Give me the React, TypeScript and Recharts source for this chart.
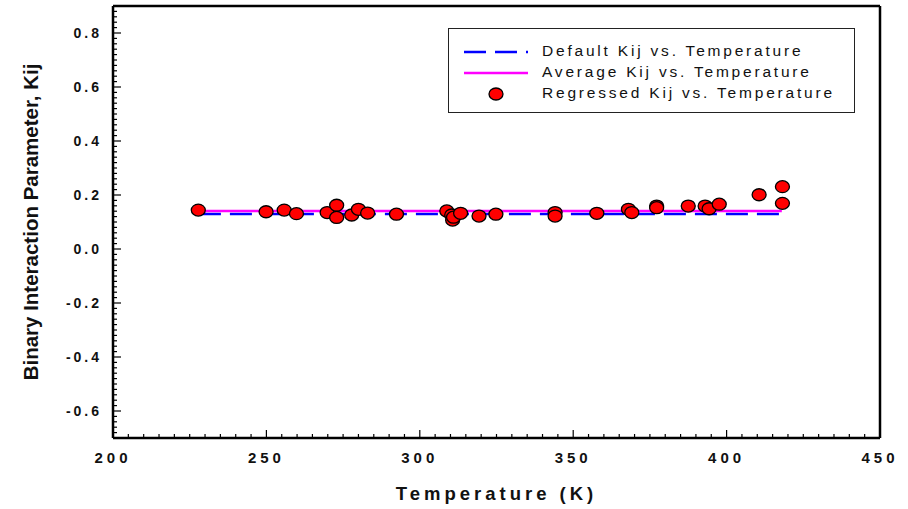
import { ComposedChart, Line, Scatter, XAxis, YAxis, Legend } from 'recharts';

// Regressed Kij points
const temps = [227.8, 249.9, 255.8, 259.8, 269.8, 272.9, 272.9, 277.8, 280.0, 283.0, 292.4, 308.8, 310.4, 310.7, 311.0, 313.3, 319.3, 324.8, 344.1, 344.1, 357.7, 368.0, 369.1, 377.2, 377.2, 387.5, 393.0, 394.3, 397.6, 410.6, 418.2, 418.2];
const regressedKij = [0.144, 0.138, 0.144, 0.131, 0.135, 0.162, 0.117, 0.126, 0.147, 0.133, 0.129, 0.141, 0.126, 0.107, 0.118, 0.132, 0.122, 0.129, 0.135, 0.122, 0.132, 0.147, 0.135, 0.159, 0.153, 0.159, 0.159, 0.149, 0.166, 0.201, 0.231, 0.169];

// Constant lines over the temperature range
const lineTemps = [228, 418];
const defaultKij = [0.13, 0.13];
const averageKij = [0.141, 0.141];

const xDomain = [200, 450];
const yDomain = [-0.7, 0.9];
const xTicks = Array.from({ length: 51 }, (_, i) => 200 + i * 5);
const yTicks = Array.from({ length: 81 }, (_, i) => Math.round((-0.7 + i * 0.02) * 100) / 100);

const FONT = 'Arial, "Liberation Sans", sans-serif';

const points = temps.map((t, i) => ({ t, k: regressedKij[i] }));
const defaultData = lineTemps.map((t, i) => ({ t, k: defaultKij[i] }));
const averageData = lineTemps.map((t, i) => ({ t, k: averageKij[i] }));

const isMajorX = (v: number) => v % 50 === 0;
const isMajorY = (v: number) => Math.round(v * 100) % 20 === 0;

const BottomTick = ({ x, y, payload }: any) => {
  const major = isMajorX(payload.value);
  return (
    <g>
      <line x1={x} y1={y} x2={x} y2={y - (major ? 8 : 4)} stroke="#000" strokeWidth={1.2} />
      {major && (
        <text x={x} y={y + 25} textAnchor="middle" fontFamily={FONT} fontWeight="bold" fontSize={15} letterSpacing={4} fill="#111">
          {payload.value}
        </text>
      )}
    </g>
  );
};

const TopTick = ({ x, y, payload }: any) => (
  <line x1={x} y1={y} x2={x} y2={y + (isMajorX(payload.value) ? 8 : 4)} stroke="#000" strokeWidth={1.2} />
);

const LeftTick = ({ x, y, payload }: any) => {
  const major = isMajorY(payload.value);
  return (
    <g>
      <line x1={x} y1={y} x2={x + (major ? 8 : 4)} y2={y} stroke="#000" strokeWidth={1.2} />
      {major && (
        <text x={x - 11} y={y + 5} textAnchor="end" fontFamily={FONT} fontWeight="bold" fontSize={14} letterSpacing={3} fill="#111">
          {payload.value.toFixed(1)}
        </text>
      )}
    </g>
  );
};

const RightTick = ({ x, y, payload }: any) => (
  <line x1={x} y1={y} x2={x - (isMajorY(payload.value) ? 8 : 4)} y2={y} stroke="#000" strokeWidth={1.2} />
);

const Dot = ({ cx, cy }: any) => (
  <ellipse cx={cx} cy={cy} rx={7} ry={6} fill="#ff0000" stroke="#000" strokeWidth={1.3} />
);

const legendItems = [
  { label: 'Default Kij vs. Temperature', kind: 'dash' },
  { label: 'Average Kij vs. Temperature', kind: 'line' },
  { label: 'Regressed Kij vs. Temperature', kind: 'dot' },
];

const LegendBox = () => (
  <div style={{ position: 'relative', width: 405, height: 83, border: '1.5px solid #222', background: '#fff' }}>
    {legendItems.map((item, i) => (
      <div key={item.label} style={{ position: 'absolute', left: 0, top: 13 + i * 21, height: 20, width: 405 }}>
        <svg width={90} height={20} style={{ position: 'absolute', left: 0, top: 0 }}>
          {item.kind === 'dash' && <line x1={15} y1={10} x2={79} y2={10} stroke="#0000ff" strokeWidth={2.5} strokeDasharray="22 9" />}
          {item.kind === 'line' && <line x1={15} y1={10} x2={79} y2={10} stroke="#ff00ff" strokeWidth={2.5} />}
          {item.kind === 'dot' && <ellipse cx={47} cy={10} rx={7} ry={6} fill="#ff0000" stroke="#000" strokeWidth={1.3} />}
        </svg>
        <span style={{ position: 'absolute', left: 93, top: 0, fontFamily: FONT, fontSize: 15.5, letterSpacing: 2.8, color: '#111', whiteSpace: 'nowrap' }}>
          {item.label}
        </span>
      </div>
    ))}
  </div>
);

export default function App() {
  return (
    <div style={{ position: 'absolute', left: 0, top: 0, width: 908, height: 509, background: '#fff' }}>
      <ComposedChart width={908} height={509} margin={{ top: 5, right: 27, bottom: 31, left: 53 }}>
        <XAxis xAxisId="b" orientation="bottom" type="number" dataKey="t" domain={xDomain} ticks={xTicks} interval={0}
          height={40} tickSize={0} tickMargin={0} tickLine={false} axisLine={{ stroke: '#000', strokeWidth: 2.5 }} tick={<BottomTick />}
          label={{ value: 'Temperature (K)', position: 'bottom', offset: 9, style: { fontFamily: FONT, fontWeight: 'bold', fontSize: 18.5, letterSpacing: 4, fill: '#111' } }} />
        <XAxis xAxisId="t" orientation="top" type="number" dataKey="t" domain={xDomain} ticks={xTicks} interval={0}
          height={1} tickSize={0} tickMargin={0} tickLine={false} axisLine={{ stroke: '#000', strokeWidth: 2.5 }} tick={<TopTick />} />
        <YAxis yAxisId="l" orientation="left" type="number" domain={yDomain} ticks={yTicks} interval={0}
          width={60} tickSize={0} tickMargin={0} tickLine={false} axisLine={{ stroke: '#000', strokeWidth: 2.5 }} tick={<LeftTick />}
          label={{ value: 'Binary Interaction Parameter, Kij', angle: -90, position: 'left', offset: 22, style: { textAnchor: 'middle', fontFamily: FONT, fontWeight: 'bold', fontSize: 20.5, fill: '#111' } }} />
        <YAxis yAxisId="r" orientation="right" type="number" domain={yDomain} ticks={yTicks} interval={0}
          width={1} tickSize={0} tickMargin={0} tickLine={false} axisLine={{ stroke: '#000', strokeWidth: 2.5 }} tick={<RightTick />} />
        <Legend layout="vertical" align="center" verticalAlign="middle" content={() => <LegendBox />}
          wrapperStyle={{ left: 448, top: 28, width: 408, height: 86 }} />
        <Line xAxisId="b" yAxisId="l" data={defaultData} dataKey="k" type="linear" stroke="#0000ff" strokeWidth={2.5}
          strokeDasharray="22 9" dot={false} isAnimationActive={false} legendType="none" />
        <Line xAxisId="b" yAxisId="l" data={averageData} dataKey="k" type="linear" stroke="#ff00ff" strokeWidth={2.5}
          dot={false} isAnimationActive={false} legendType="none" />
        <Scatter xAxisId="b" yAxisId="l" data={points} dataKey="k" shape={<Dot />} isAnimationActive={false} legendType="none" />
      </ComposedChart>
    </div>
  );
}
